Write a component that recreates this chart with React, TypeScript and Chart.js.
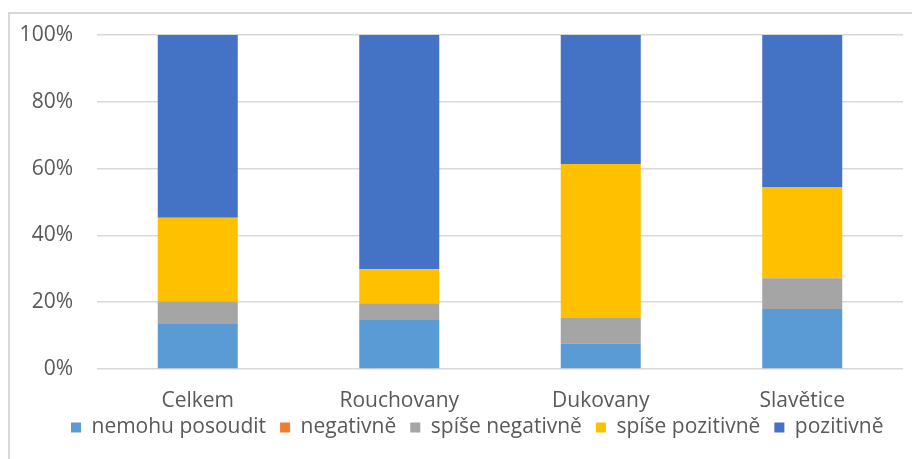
import React, { useEffect, useRef } from "react";
import { Chart, registerables } from "chart.js";

Chart.register(...registerables);

const categories = ["Celkem", "Rouchovany", "Dukovany", "Slavětice"];
const seriesNames = ["nemohu posoudit", "negativně", "spíše negativně", "spíše pozitivně", "pozitivně"];
const nemohuPosoudit = [13.5, 14.9, 7.6, 18.0];
const negativne = [0, 0, 0, 0];
const spiseNegativne = [6.7, 4.8, 7.7, 9.2];
const spisePozitivne = [25.1, 10.2, 46.1, 27.3];
const pozitivne = [54.7, 70.1, 38.6, 45.5];
const seriesColors = ["#5B9BD5", "#ED7D31", "#A5A5A5", "#FFC000", "#4472C4"];
const yTicks = [0, 20, 40, 60, 80, 100];

const FONT = "'Open Sans'";
const TEXT = "#595959";

const legendShift = {
  id: "legendShift",
  afterLayout(chart: any) {
    const l = chart.legend;
    if (!l) return;
    const dx = 49;
    const dy = -11;
    l.left += dx;
    l.right += dx;
    l.top += dy;
    l.bottom += dy;
  },
};

export default function App() {
  const ref = useRef<HTMLCanvasElement | null>(null);

  useEffect(() => {
    if (!ref.current) return;
    const values = [nemohuPosoudit, negativne, spiseNegativne, spisePozitivne, pozitivne];
    const chart = new Chart(ref.current, {
      type: "bar",
      data: {
        labels: categories,
        datasets: seriesNames.map((name, i) => ({
          label: name,
          data: values[i],
          backgroundColor: seriesColors[i],
          borderWidth: 0,
          barPercentage: 0.397,
          categoryPercentage: 1,
        })),
      },
      plugins: [legendShift],
      options: {
        animation: false,
        responsive: false,
        maintainAspectRatio: false,
        layout: { padding: { left: 0, right: 17, top: 27, bottom: 0 } },
        plugins: {
          tooltip: { enabled: false },
          legend: {
            position: "bottom",
            align: "start",
            labels: {
              boxWidth: 10,
              boxHeight: 10,
              padding: 14,
              color: TEXT,
              font: { family: FONT, size: 21 },
            },
          },
        },
        scales: {
          x: {
            stacked: true,
            grid: { display: false },
            border: { display: false },
            ticks: { color: TEXT, font: { family: FONT, size: 21 }, padding: 11 },
            afterFit: (s: any) => {
              s.height = 45;
            },
          },
          y: {
            stacked: true,
            min: 0,
            max: 100,
            afterBuildTicks: (s: any) => {
              s.ticks = yTicks.map((v) => ({ value: v }));
            },
            grid: {
              color: "#D9D9D9",
              lineWidth: 1.5,
              drawTicks: true,
              tickLength: 24,
              tickColor: "rgba(0,0,0,0)",
            },
            border: { display: false },
            ticks: {
              color: TEXT,
              font: { family: FONT, size: 21 },
              padding: 0,
              callback: (v: any) => v + "%",
            },
            afterFit: (s: any) => {
              s.width = 89;
            },
          },
        },
      },
    });
    return () => chart.destroy();
  }, []);

  return (
    <div style={{ position: "relative", width: 912, height: 451, overflow: "hidden" }}>
      <div
        style={{
          position: "absolute",
          left: 0,
          top: 4,
          width: 1200,
          height: 1200,
          border: "2px solid #D9D9D9",
          boxSizing: "border-box",
        }}
      />
      <canvas ref={ref} width={912} height={451} style={{ position: "absolute", left: 0, top: 0 }} />
    </div>
  );
}
